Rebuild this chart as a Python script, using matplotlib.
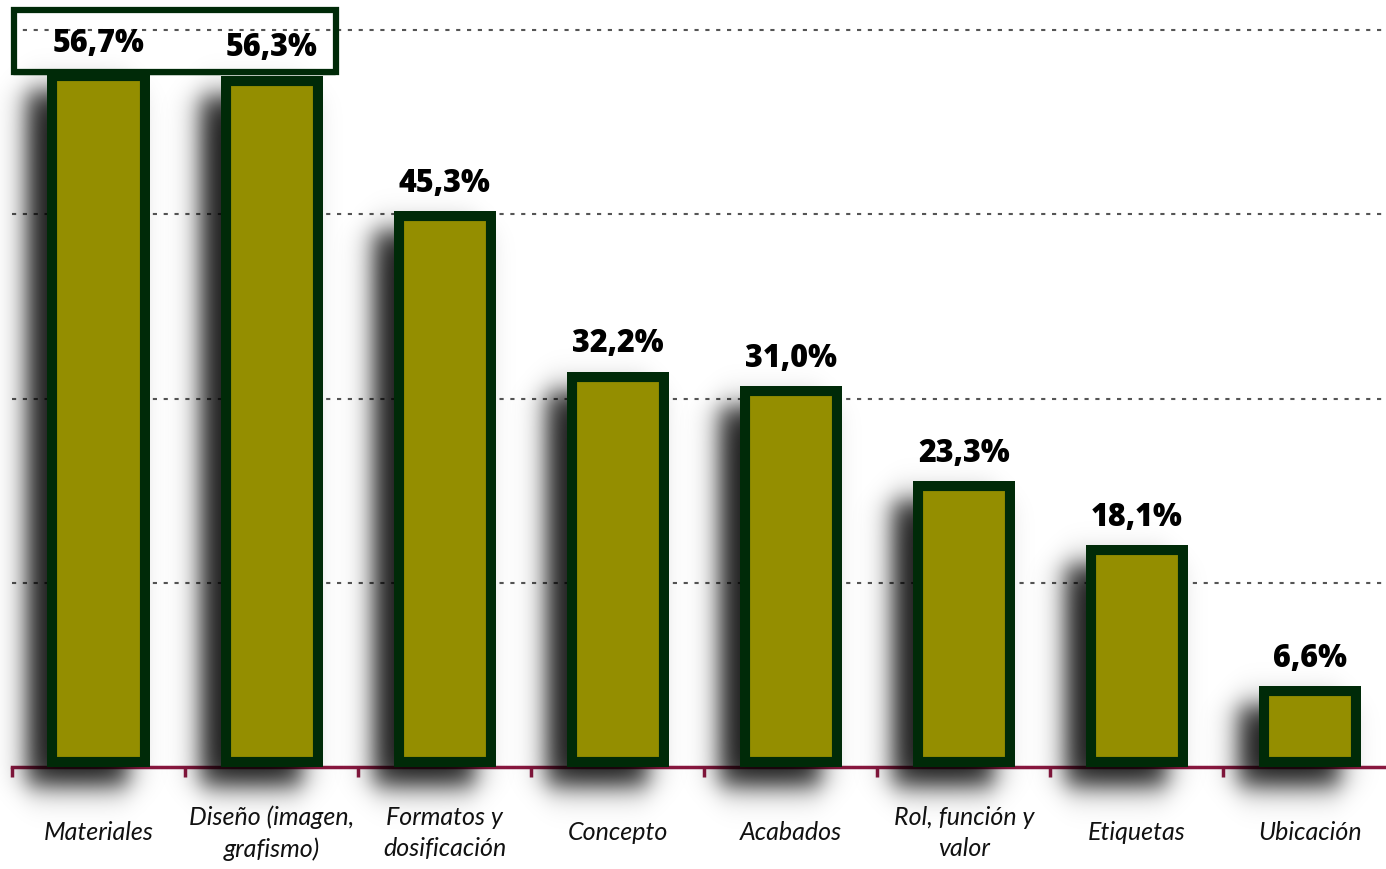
import numpy as np
import matplotlib
matplotlib.use('Agg')
import matplotlib.pyplot as plt
from matplotlib.patches import Rectangle
from matplotlib.transforms import blended_transform_factory

# Data
categories = ['Materiales', 'Diseño (imagen,\ngrafismo)', 'Formatos y\ndosificación',
              'Concepto', 'Acabados', 'Rol, función y\nvalor', 'Etiquetas', 'Ubicación']
values = [56.7, 56.3, 45.3, 32.2, 31.0, 23.3, 18.1, 6.6]
labels = ['56,7%', '56,3%', '45,3%', '32,2%', '31,0%', '23,3%', '18,1%', '6,6%']
grid_values = [15, 30, 45, 60]

# Colours
fill_col = '#948e00'
edge_col = '#002a08'
axis_col = '#8a1840'

W, H = 1386, 869
fig = plt.figure(figsize=(W / 100, H / 100), dpi=100)
ax_left, ax_right = 12 / W, 1.0
ax_bottom = (H - 767) / H
ax_top = (H - 24) / H
ax = fig.add_axes([ax_left, ax_bottom, ax_right - ax_left, ax_top - ax_bottom])

x = np.arange(len(values))
xmin, xmax = -0.5, 7.44
ymin, ymax = 0, 60.5
ax.set_xlim(xmin, xmax)
ax.set_ylim(ymin, ymax)

# pixel -> data scale
px_x = (xmax - xmin) / (W * (ax_right - ax_left))
px_y = (ymax - ymin) / (H * (ax_top - ax_bottom))

# dotted grid lines
for g in grid_values:
    ax.axhline(g, color='#555555', lw=1.5, linestyle=(0, (2, 3.2)), zorder=1)

bar_w = 0.59


def soft_box(t, a, b, s):
    # blurred step from a to b
    return 1 / (1 + np.exp(-(t - a) / s)) - 1 / (1 + np.exp(-(t - b) / s))


# blurred drop shadow (offset left/down)
dx, dy = -21 * px_x, -20 * px_y
sx, sy = 7.5 * px_x, 8 * px_y
for i, v in enumerate(values):
    x0 = x[i] - bar_w / 2 + dx
    x1 = x[i] + bar_w / 2 + dx
    y0, y1 = dy, v + dy
    ex0, ex1 = x0 - 60 * px_x, x1 + 60 * px_x
    ey0, ey1 = y0 - 60 * px_y, y1 + 60 * px_y
    gx = np.linspace(ex0, ex1, 200)
    gy = np.linspace(ey0, ey1, 500)
    fx = soft_box(gx, x0, x1, sx)
    fy = soft_box(gy, y0, y1, sy)
    a = 0.9 * np.outer(fy, fx)
    img = np.zeros((len(gy), len(gx), 4))
    img[..., 3] = a
    im = ax.imshow(img, extent=(ex0, ex1, ey0, ey1), origin='lower', aspect='auto',
                   interpolation='bilinear', zorder=3)
    im.set_clip_on(False)
ax.set_xlim(xmin, xmax)
ax.set_ylim(ymin, ymax)

# bars with border drawn inside
bars = ax.bar(x, values, width=bar_w, color=fill_col, edgecolor=edge_col,
              linewidth=14.5, zorder=4)
for b in bars:
    b.set_clip_path(b)

# value labels
for i, v in enumerate(values):
    ax.annotate(labels[i], (x[i], v), xytext=(0, 8), textcoords='offset points',
                ha='center', va='bottom', fontsize=22, fontweight=800,
                family='Open Sans', color='black', zorder=6)

# rough box round the two top labels
for off, lw, a in [(0, 4.5, 1.0), (1.5, 1.2, 0.8), (-1.5, 1.0, 0.7)]:
    bx0 = -0.5 + 2 * px_x + off * px_x
    by0 = (767 - 72) * px_y + off * px_y
    bw = (338 - 16) * px_x
    bh = (72 - 10) * px_y
    ax.add_patch(Rectangle((bx0, by0), bw, bh, facecolor='none', edgecolor=edge_col,
                           lw=lw, alpha=a, zorder=5, clip_on=False))

# axis
for s in ['top', 'right', 'left']:
    ax.spines[s].set_visible(False)
ax.spines['bottom'].set_color(axis_col)
ax.spines['bottom'].set_linewidth(2.5)
ax.spines['bottom'].set_zorder(2.5)
ax.set_yticks([])
ax.set_xticks(np.arange(-0.5, len(values) - 0.5, 1.0))
ax.set_xticklabels([])
ax.tick_params(axis='x', direction='out', length=7, width=2.5, color=axis_col)

# category labels
trans = blended_transform_factory(ax.transData, ax.transAxes)
for i, c in enumerate(categories):
    ax.text(x[i], -66 / (H * (ax_top - ax_bottom)), c, transform=trans,
            ha='center', va='center', fontsize=18, style='italic', family='Lato',
            color='#111111', linespacing=1.45)

fig.savefig('out.png', dpi=100)
